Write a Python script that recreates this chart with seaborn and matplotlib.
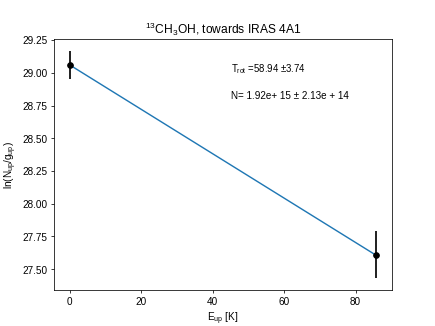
import numpy as np
import pandas as pd
import matplotlib
matplotlib.use("Agg")
import matplotlib.pyplot as plt
import seaborn as sns

# rotation diagram values
e_up = [0.0, 85.8]
ln_n = [29.06, 27.61]
ln_err = [0.11, 0.18]

# fitted line (same x)
fit_x = [0.0, 85.8]
fit_y = [29.06, 27.605]

t_rot, t_rot_err = 58.94, 3.74
n_tot, n_tot_err = "1.92e+ 15", "2.13e + 14"

# plain matplotlib look
sns.reset_orig()
plt.rcParams["font.family"] = ["Liberation Sans", "DejaVu Sans"]
plt.rcParams["font.size"] = 10.6
plt.rcParams["mathtext.default"] = "regular"

fig, ax = plt.subplots(figsize=(6.4, 4.8), dpi=68)

fit_df = pd.DataFrame({"E_up": fit_x, "fit": fit_y})
sns.lineplot(data=fit_df, x="E_up", y="fit", color="tab:blue", lw=1.5, ax=ax)
ax.errorbar(e_up, ln_n, yerr=ln_err, fmt="ko", elinewidth=1.8, markersize=6, zorder=3)

ax.text(0.525, 0.879, r"$T_{rot}$ =%.2f $\pm$%.2f" % (t_rot, t_rot_err),
        transform=ax.transAxes, va="center", fontsize=10.2)
ax.text(0.525, 0.775, "N= %s \u00b1 %s" % (n_tot, n_tot_err),
        transform=ax.transAxes, va="center", fontsize=10.4)

ax.set_title(r"$^{13}$CH$_3$OH, towards IRAS 4A1")
ax.set_xlabel(r"$E_{up}$ [K]")
ax.set_ylabel(r"ln($N_{up}/g_{up}$)")
ax.set_ylim(27.34, 29.26)
ax.yaxis.set_major_formatter(matplotlib.ticker.FormatStrFormatter("%.2f"))

fig.savefig("out.png", dpi=68)
